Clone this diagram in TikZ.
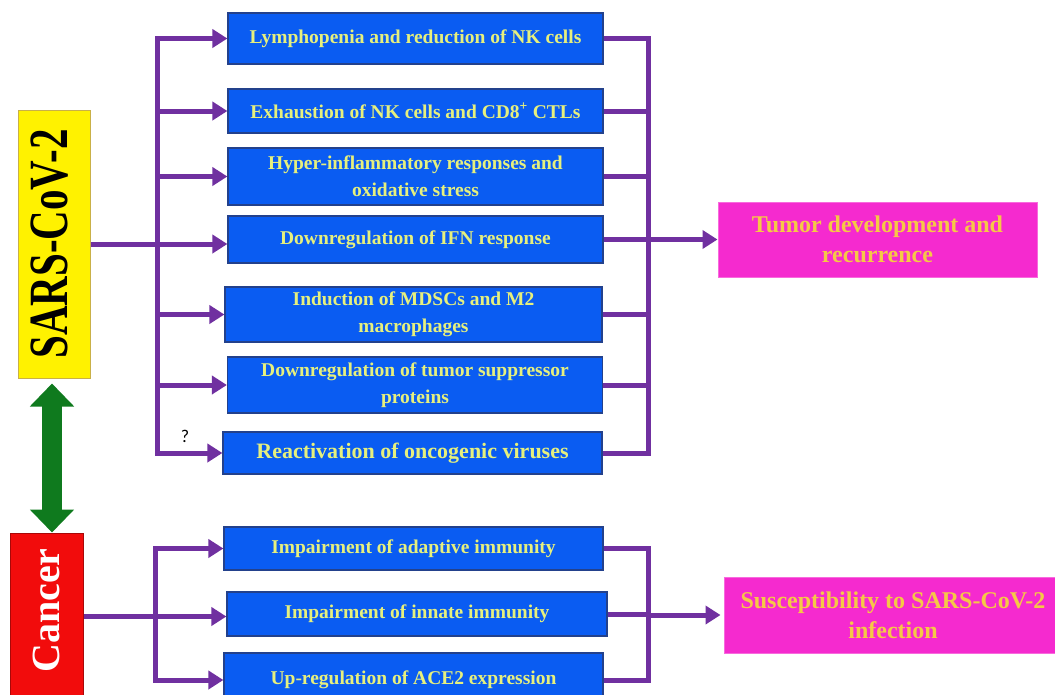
\documentclass[tikz,border=0pt]{standalone}
\usepackage{fontspec}
\setmainfont{Liberation Serif}
\newfontfamily\qfont{Carlito}
\usepackage{graphicx}
\usepackage{tikz}
\usetikzlibrary{arrows.meta}

\definecolor{boxblue}{HTML}{0A5CF2}
\definecolor{boxedge}{HTML}{23418C}
\definecolor{paleyellow}{HTML}{E6F07E}
\definecolor{linkpurple}{HTML}{7030A0}
\definecolor{darkgreen}{HTML}{0F7A1E}
\definecolor{hotpink}{HTML}{F52ACF}
\definecolor{gold}{HTML}{F5C846}
\definecolor{sarsedge}{HTML}{C9B048}
\definecolor{cancerred}{HTML}{F20C0C}

\begin{document}
\begin{tikzpicture}[x=1pt,y=-1pt]
\tikzstyle{effect}=[draw=boxedge,line width=1.2pt,fill=boxblue,text=paleyellow,
  font=\bfseries\fontsize{19.5}{27}\selectfont,align=center,inner sep=0pt,minimum width=375pt]
\tikzstyle{outcome}=[draw=hotpink!70!white,line width=1pt,fill=hotpink,text=gold,
  font=\bfseries\fontsize{24}{30}\selectfont,align=center,inner sep=0pt]
\tikzstyle{link}=[draw=linkpurple,line width=5pt]
\tikzstyle{arrow}=[link,-{Triangle[length=15pt,width=18pt]}]

\useasboundingbox[fill=white] (0,0) rectangle (1055,694);

% sources
\node[draw=sarsedge,line width=1pt,fill=yellow,minimum width=72pt,minimum height=268pt,inner sep=0pt]
  (sars) at (54,244) {};
\node[rotate=90,font=\bfseries\fontsize{41}{41}\selectfont] (sarstext) at ([xshift=-4pt]sars.center)
  {\scalebox{1}[1.35]{SARS-CoV-2}};
\node[draw=cancerred!70!black,line width=1pt,fill=cancerred,minimum width=73pt,minimum height=167pt,inner sep=0pt]
  (cancer) at (46.5,616.5) {};
\node[rotate=90,text=white,font=\bfseries\fontsize{40}{40}\selectfont] (cancertext)
  at ([yshift=6pt]cancer.center) {Cancer};

% effects of the virus
\node[effect,minimum height=51pt] (E1) at (415.5,38.5) {Lymphopenia and reduction of NK cells};
\node[effect,minimum height=44pt] (E2) at (415.5,111) {Exhaustion of NK cells and CD8\textsuperscript{+} CTLs};
\node[effect,minimum height=57pt] (E3) at (415.5,176.5) {Hyper-inflammatory responses and\\oxidative stress};
\node[effect,minimum height=47pt] (E4) at (415.5,239.5) {Downregulation of IFN response};
\node[effect,minimum height=55pt,minimum width=377pt] (E5) at (413.5,314.5) {Induction of MDSCs and M2\\macrophages};
\node[effect,minimum height=56pt] (E6) at (415,385) {Downregulation of tumor suppressor\\proteins};
\node[effect,minimum height=42pt,minimum width=379pt,font=\bfseries\fontsize{22}{27}\selectfont]
  (E7) at (412.5,453) {Reactivation of oncogenic viruses};

% effects of cancer
\node[effect,minimum height=43pt,minimum width=379pt] (C1) at (413.5,548.5) {Impairment of adaptive immunity};
\node[effect,minimum height=44pt,minimum width=380pt] (C2) at (417,614) {Impairment of innate immunity};
\node[effect,minimum height=54pt,minimum width=379pt] (C3) at (413.5,680) {Up-regulation of ACE2 expression};

% outcomes
\node[outcome,minimum width=319pt,minimum height=75pt] (tumor) at (877.5,239.5) {Tumor development and\\recurrence};
\node[outcome,minimum width=338pt,minimum height=76pt] (susc) at (893,615) {Susceptibility to SARS-CoV-2\\infection};

\node[font=\qfont\fontsize{18}{18}\selectfont] (qmark) at (185,436) {?};

\coordinate (busL) at (157,0);
\coordinate (busC) at (155,0);
\coordinate (busR) at (648,0);
\coordinate (gx) at (52,0);

% two-way link
\draw[draw=darkgreen,line width=20pt,shorten <=5pt,
  {Triangle[length=23pt,width=43pt]}-{Triangle[length=23pt,width=43pt]}]
  (sars.south -| gx) -- (cancer.north -| gx);

% SARS-CoV-2 branch
\draw[arrow] (sars.east) -- (sars.east -| E4.west);
\foreach \e in {E1,E2,E3,E5,E6,E7}
  \draw[arrow] (busL |- \e.west) -- (\e.west);
\draw[link,line cap=rect] (busL |- E1.west) -- (busL |- E7.west);
\foreach \e in {E1,E2,E3,E4,E5,E6,E7}
  \draw[link] (\e.east) -- (busR |- \e.east);
\draw[link,line cap=rect] (busR |- E1.east) -- (busR |- E7.east);
\draw[arrow] (busR |- tumor.west) -- (tumor.west);

% cancer branch
\draw[arrow] (cancer.east) -- (cancer.east -| C2.west);
\foreach \c in {C1,C3}
  \draw[arrow] (busC |- \c.west) -- (\c.west);
\draw[link,line cap=rect] (busC |- C1.west) -- (busC |- C3.west);
\foreach \c in {C1,C2,C3}
  \draw[link] (\c.east) -- (busR |- \c.east);
\draw[link,line cap=rect] (busR |- C1.east) -- (busR |- C3.east);
\draw[arrow,shorten >=3pt] (busR |- susc.west) -- (susc.west);

\end{tikzpicture}
\end{document}
